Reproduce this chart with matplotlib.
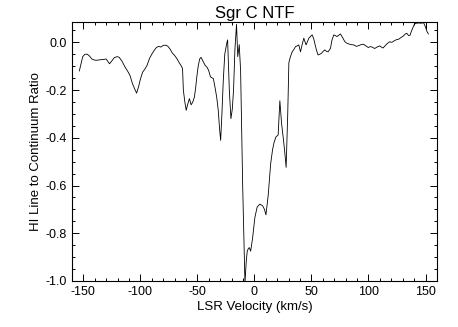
import numpy as np
import matplotlib
matplotlib.use("Agg")
import matplotlib.pyplot as plt
from matplotlib.ticker import MultipleLocator, FormatStrFormatter

plt.rcParams['font.family'] = ['Liberation Sans', 'DejaVu Sans']
plt.rcParams['axes.unicode_minus'] = False

# --- DATA ---
velocity = [
    -153.5, -152.0, -150.5, -148.5, -146.5, -144.5, -142.5, -140.0, -137.5, -135.0,
    -132.5, -130.0, -127.0, -125.0, -123.0, -120.5, -118.5, -116.0, -113.5, -111.0,
    -109.0, -107.0, -105.0, -103.3, -101.5, -100.0, -98.0, -96.0, -94.0, -92.0,
    -90.0, -88.0, -86.0, -84.0, -82.0, -80.0, -78.0, -76.0, -74.0, -72.0,
    -70.0, -68.0, -66.0, -64.0, -63.0, -62.3, -61.0, -59.8, -58.5, -57.0,
    -55.5, -54.0, -52.6, -51.5, -50.5, -49.3, -48.0, -46.8, -45.0, -43.3,
    -41.5, -40.2, -38.5, -36.0, -34.5, -33.1, -31.7, -30.6, -29.6, -28.5,
    -27.3, -26.0, -24.3, -23.5, -22.0, -20.6, -19.4, -18.3, -17.1, -15.7,
    -14.6, -13.3, -12.1, -10.3, -8.3, -7.2, -6.3, -5.4, -4.5, -3.3,
    -1.6, 0.4, 2.4, 4.8, 7.2, 8.8, 10.1, 12.1, 14.2, 15.9,
    17.2, 18.8, 20.8, 22.3, 23.8, 25.5, 26.6, 27.8, 29.2, 30.2,
    31.6, 33.1, 34.6, 36.0, 37.5, 38.9, 40.4, 41.8, 43.3, 45.3,
    47.7, 49.2, 50.6, 52.0, 52.9, 54.5, 55.8, 57.3, 58.8, 60.2,
    61.7, 63.2, 64.6, 66.7, 68.0, 69.6, 71.0, 72.4, 74.0, 75.4,
    77.3, 79.2, 81.0, 82.7, 85.0, 87.1, 89.4, 91.4, 93.5, 95.5,
    97.5, 99.8, 101.5, 103.1, 105.4, 107.5, 109.8, 111.3, 112.7, 114.5,
    116.5, 118.5, 120.5, 122.5, 124.5, 126.5, 128.5, 130.2, 132.3, 133.5,
    135.2, 136.5, 137.5, 138.8, 140.4, 142.0, 144.0, 146.0, 148.3, 149.8,
    151.3, 152.5,
]
ratio = [
    -0.120, -0.090, -0.060, -0.050, -0.050, -0.058, -0.070, -0.075, -0.075, -0.073,
    -0.072, -0.070, -0.090, -0.078, -0.065, -0.060, -0.063, -0.080, -0.103, -0.122,
    -0.140, -0.172, -0.195, -0.213, -0.185, -0.155, -0.125, -0.112, -0.095, -0.068,
    -0.050, -0.035, -0.022, -0.017, -0.020, -0.013, -0.012, -0.016, -0.028, -0.045,
    -0.055, -0.068, -0.085, -0.100, -0.110, -0.200, -0.250, -0.285, -0.260, -0.236,
    -0.262, -0.250, -0.229, -0.190, -0.145, -0.100, -0.070, -0.063, -0.080, -0.096,
    -0.105, -0.117, -0.145, -0.152, -0.190, -0.229, -0.285, -0.360, -0.411, -0.300,
    -0.160, -0.050, -0.005, 0.010, -0.200, -0.320, -0.280, -0.200, -0.030, 0.075,
    -0.060, -0.010, -0.120, -0.600, -1.010, -0.920, -0.875, -0.865, -0.860, -0.875,
    -0.820, -0.734, -0.690, -0.678, -0.685, -0.700, -0.723, -0.640, -0.510, -0.450,
    -0.420, -0.397, -0.388, -0.245, -0.340, -0.410, -0.460, -0.524, -0.300, -0.085,
    -0.060, -0.040, -0.030, -0.018, -0.015, -0.011, -0.040, -0.010, 0.017, -0.011,
    0.017, 0.025, 0.031, 0.015, -0.004, -0.035, -0.053, -0.050, -0.046, -0.038,
    -0.032, -0.038, -0.040, -0.025, 0.010, 0.031, 0.028, 0.024, 0.030, 0.035,
    0.020, 0.003, -0.004, -0.007, -0.010, -0.011, -0.017, -0.014, -0.010, -0.008,
    -0.014, -0.022, -0.018, -0.020, -0.026, -0.020, -0.015, -0.020, -0.024, -0.015,
    -0.005, 0.002, 0.000, 0.006, 0.011, 0.013, 0.020, 0.025, 0.035, 0.038,
    0.028, 0.030, 0.045, 0.060, 0.077, 0.080, 0.081, 0.080, 0.082, 0.066,
    0.045, 0.035,
]

# --- PLOT ---
fig = plt.figure(figsize=(4.58, 3.27), dpi=100)
ax = fig.add_axes([0.157, 0.1407, 0.797, 0.792])
ax.plot(velocity, ratio, color='black', linewidth=0.6)

ax.set_xlim(-160, 160)
ax.set_ylim(-1.0, 0.085)
ax.xaxis.set_major_locator(MultipleLocator(50))
ax.xaxis.set_minor_locator(MultipleLocator(10))
ax.yaxis.set_major_locator(MultipleLocator(0.2))
ax.yaxis.set_minor_locator(MultipleLocator(0.05))
ax.yaxis.set_major_formatter(FormatStrFormatter('%.1f'))

ax.tick_params(which='both', direction='in', top=True, right=True, labelsize=9, width=0.7)
ax.tick_params(which='major', length=5)
ax.tick_params(which='minor', length=2.5)
for sp in ax.spines.values():
    sp.set_linewidth(0.8)

ax.set_title('Sgr C NTF', fontsize=12, pad=3)
ax.set_xlabel('LSR Velocity (km/s)', fontsize=9.5, labelpad=2)
ax.set_ylabel('HI Line to Continuum Ratio', fontsize=9.5, labelpad=3)

fig.savefig('out.png', dpi=100)
